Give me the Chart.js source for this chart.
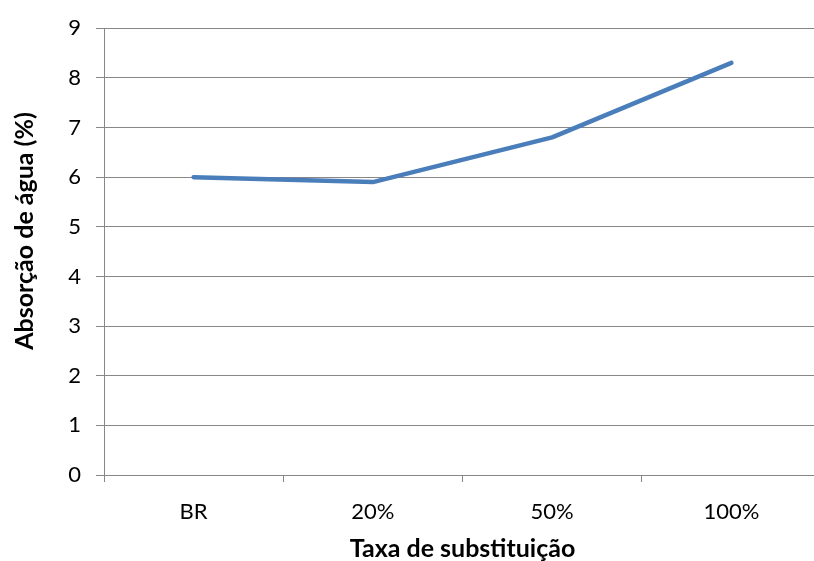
<!DOCTYPE html>
<html>
<head>
<meta charset="utf-8">
<script src="https://cdn.jsdelivr.net/npm/chart.js@4"></script>
<style>
  html, body { margin: 0; padding: 0; background: #fff; overflow: hidden; }
  #wrap { width: 822px; height: 561px; position: relative; }
</style>
</head>
<body>
<div id="wrap"><canvas id="c"></canvas></div>
<script>
// Absorção de água por taxa de substituição
const categories = ['BR', '20%', '50%', '100%'];
const absorcao = [6.0, 5.9, 6.8, 8.3];
const yTicks = [0, 1, 2, 3, 4, 5, 6, 7, 8, 9];
const yTitle = 'Absorção de água (%)';
const xTitle = 'Taxa de substituição';

const FONT = 'Lato, "Open Sans", sans-serif';
const GRID = '#878787';

// Vertical axis title, drawn beside the value axis
const yTitlePlugin = {
  id: 'yTitle',
  afterDraw(chart) {
    const ctx = chart.ctx;
    ctx.save();
    ctx.translate(25, 231);
    ctx.rotate(-Math.PI / 2);
    ctx.font = 'bold 25px ' + FONT;
    ctx.fillStyle = '#000';
    ctx.textAlign = 'center';
    ctx.textBaseline = 'middle';
    ctx.fillText(yTitle, 0, 0);
    ctx.restore();
  }
};

new Chart(document.getElementById('c'), {
  type: 'line',
  data: {
    labels: categories,
    datasets: [{
      data: absorcao,
      borderColor: '#4a7ebb',
      borderWidth: 4.5,
      pointRadius: 0,
      tension: 0,
      fill: false,
      borderCapStyle: 'round',
      borderJoinStyle: 'round'
    }]
  },
  plugins: [yTitlePlugin],
  options: {
    responsive: true,
    maintainAspectRatio: false,
    animation: false,
    devicePixelRatio: 1,
    layout: { padding: { top: 26, right: 1, bottom: 0, left: 0 } },
    plugins: { legend: { display: false }, tooltip: { enabled: false } },
    scales: {
      x: {
        offset: true,
        grid: {
          offset: true,
          drawOnChartArea: false,
          drawTicks: true,
          tickLength: 7,
          color: GRID,
          lineWidth: 1
        },
        border: { display: true, color: GRID, width: 1 },
        ticks: { color: '#000', font: { family: FONT, size: 22 }, padding: 17, maxRotation: 0 },
        title: {
          display: true,
          text: xTitle,
          color: '#000',
          font: { family: FONT, size: 25, weight: 'bold', lineHeight: 1.0 },
          padding: { top: 0, bottom: 0 }
        },
        afterFit(scale) { scale.height = 86; }
      },
      y: {
        min: 0,
        max: 9,
        afterBuildTicks(scale) { scale.ticks = yTicks.map(v => ({ value: v })); },
        grid: { color: GRID, lineWidth: 1, tickLength: 8 },
        border: { display: true, color: GRID, width: 1 },
        ticks: { color: '#000', font: { family: FONT, size: 22 }, padding: 15 },
        title: { display: false },
        afterFit(scale) { scale.width = 104; }
      }
    }
  }
});
</script>
</body>
</html>
